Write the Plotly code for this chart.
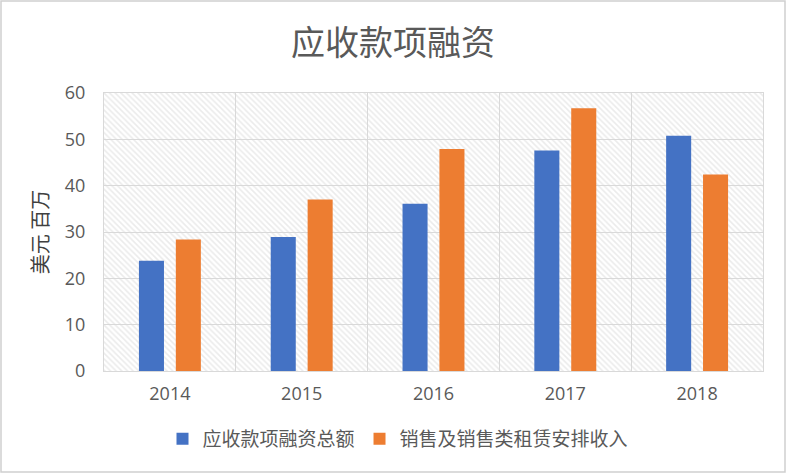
import plotly.graph_objects as go

years = ["2014", "2015", "2016", "2017", "2018"]
total_financing = [23.8, 28.9, 36.1, 47.6, 50.8]
sales_lease_income = [28.4, 37.0, 47.9, 56.7, 42.4]
series_names = ["应收款项融资总额", "销售及销售类租赁安排收入"]
y_ticks = [0, 10, 20, 30, 40, 50, 60]

FONT = "Noto Sans CJK SC"
L, R, T, B = 104, 24, 93, 102
W, H = 787, 473
pw, ph = W - L - R, H - T - B

fig = go.Figure()

# hatched plot-area background
fig.add_trace(go.Bar(
    x=years, y=[y_ticks[-1]] * len(years), width=1.0,
    marker=dict(color="rgba(0,0,0,0)", line=dict(width=0),
                pattern=dict(shape="\\", fgcolor="#d8d8d8", size=4, solidity=0.4)),
    showlegend=False, hoverinfo="skip",
))

fig.add_trace(go.Bar(
    x=years, y=total_financing, name=series_names[0],
    marker=dict(color="#4472C4", line=dict(width=0)),
    width=0.19, offset=-0.235,
))
fig.add_trace(go.Bar(
    x=years, y=sales_lease_income, name=series_names[1],
    marker=dict(color="#ED7D31", line=dict(width=0)),
    width=0.19, offset=0.045,
))

# outer chart border
fig.add_shape(type="rect", xref="paper", yref="paper",
              x0=(1 - L) / pw, x1=(W - 2 - L) / pw,
              y0=-(B - 1) / ph, y1=(ph + T - 1) / ph,
              line=dict(color="#d0d0d0", width=1.5), layer="below")

fig.update_layout(
    width=W, height=H,
    margin=dict(l=L, r=R, t=T, b=B),
    paper_bgcolor="white", plot_bgcolor="white",
    barmode="overlay",
    font=dict(family=FONT, color="#595959"),
    title=dict(text="应收款项融资", x=(393 - L) / pw, xref="paper", xanchor="center",
               y=1 - 43 / H, yanchor="middle",
               font=dict(size=34, color="#595959", family=FONT)),
    xaxis=dict(type="category", range=[-0.5, 4.5], tickson="boundaries",
               showgrid=True, gridcolor="#d9d9d9", gridwidth=1,
               showline=True, linecolor="#d9d9d9", mirror=True,
               ticks="", ticklabelstandoff=6,
               tickfont=dict(size=18, color="#595959", family="Open Sans")),
    yaxis=dict(range=[0, 60], tickvals=y_ticks, showgrid=True, gridcolor="#d9d9d9",
               showline=True, linecolor="#d9d9d9", mirror=True, zeroline=False,
               ticks="", ticklabelstandoff=14,
               tickfont=dict(size=18, color="#595959", family="Open Sans"),
               title=dict(text="美元 百万", font=dict(size=20, color="#404040", family=FONT),
                          standoff=10)),
    legend=dict(orientation="h", x=(398 - L) / pw, xanchor="center",
                y=-(439 - 371) / ph, yanchor="middle",
                font=dict(size=19, color="#595959", family=FONT),
                itemwidth=30, entrywidth=0, traceorder="normal"),
    showlegend=True,
)

fig.write_html("out.html")
